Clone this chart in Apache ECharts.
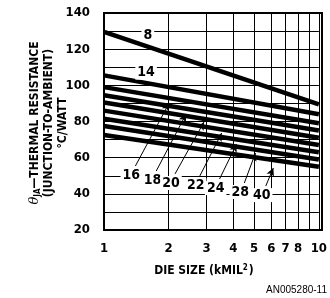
<!DOCTYPE html>
<html>
<head>
<meta charset="utf-8">
<script src="https://cdn.jsdelivr.net/npm/echarts@6/dist/echarts.min.js"></script>
<style>
  html, body { margin: 0; padding: 0; background: #fff; }
  #chart { width: 330px; height: 298px; }
</style>
</head>
<body>
<div id="chart"></div>
<script>
// pin counts and theta-JA at die size 1 and 10 kMIL^2
const pinCounts = ['8', '14', '16', '18', '20', '22', '24', '28', '40'];
const thetaAt1 = [129.5, 105.5, 99, 94.5, 90.5, 86, 81.5, 77.5, 72.5];
const thetaAt10 = [89.5, 84, 79, 75, 71, 67, 63, 59, 55];
const dieSizes = [1, 2, 3, 4, 5, 6, 7, 8, 9, 10];
const yTicks = [20, 40, 60, 80, 100, 120, 140];

// label spots (data coords)
const topLabels = ['8', '14'];
const topLabelX = [1.6, 1.57];
const topLabelY = [127.8, 107];
const lowLabels = ['16', '18', '20', '22', '24', '28', '40'];
const lowLabelX = [1.34, 1.68, 2.05, 2.67, 3.31, 4.31, 5.42];
const lowLabelY = [50.4, 47.6, 46.0, 44.8, 43.2, 41.0, 39.3];
// arrows: start near label, tip at the curve
const arrowFromX = [1.40, 1.75, 2.14, 2.79, 3.45, 4.50, 5.66];
const arrowFromY = [55.4, 52.6, 51.0, 49.8, 48.2, 46.0, 44.3];
const arrowToX = [2.01, 2.41, 2.92, 3.53, 4.14, 5.07, 6.14];
const arrowToY = [90.2, 84.1, 79.7, 73.6, 67.5, 62.6, 54.3];

const chart = echarts.init(document.getElementById('chart'));
const boldFont = 'DejaVu Sans Condensed';

const curveSeries = pinCounts.map((p, i) => ({
  name: p,
  type: 'line',
  symbol: 'none',
  silent: true,
  data: [[1, thetaAt1[i]], [10, thetaAt10[i]]],
  lineStyle: { color: '#000', width: 4.5 },
  z: 3
}));

const labelData = topLabels.map((t, i) => [topLabelX[i], topLabelY[i], t])
  .concat(lowLabels.map((t, i) => [lowLabelX[i], lowLabelY[i], t]));

const arrows = lowLabels.map((t, i) => [
  { coord: [arrowFromX[i], arrowFromY[i]] },
  { coord: [arrowToX[i], arrowToY[i]] }
]);

const option = {
  animation: false,
  grid: { left: 104, right: 8, top: 13, bottom: 68 },
  xAxis: {
    type: 'log',
    logBase: 10,
    min: 1,
    max: 10,
    axisLine: { show: true, lineStyle: { color: '#000', width: 2 } },
    axisTick: { show: false, customValues: dieSizes },
    axisLabel: {
      customValues: dieSizes,
      showMinLabel: true,
      showMaxLabel: true,
      hideOverlap: false,
      color: '#000',
      fontFamily: boldFont,
      fontWeight: 'bold',
      fontSize: 13,
      margin: 12
    },
    splitLine: { show: true, lineStyle: { color: '#000', width: 1 } }
  },
  yAxis: {
    type: 'value',
    min: 20,
    max: 140,
    interval: 10,
    axisLine: { show: true, lineStyle: { color: '#000', width: 2 } },
    axisTick: { show: false },
    axisLabel: {
      color: '#000',
      fontFamily: boldFont,
      fontWeight: 'bold',
      fontSize: 13,
      margin: 14,
      formatter: v => (yTicks.includes(v) ? String(v) : '')
    },
    splitLine: { show: true, lineStyle: { color: '#000', width: 1 } }
  },
  graphic: [
    { type: 'rect', shape: { x: 104, y: 13, width: 218, height: 217 },
      style: { fill: 'none', stroke: '#000', lineWidth: 2 }, z: 10 },
    {
      type: 'text',
      x: 49, y: 123,
      rotation: Math.PI / 2,
      style: {
        text: '{th|θ}{sub|JA}—THERMAL RESISTANCE\n(JUNCTION-TO-AMBIENT)\n°C/WATT',
        align: 'center',
        verticalAlign: 'middle',
        font: 'bold 12px "DejaVu Sans Condensed"',
        fill: '#000',
        lineHeight: 14,
        rich: {
          th: { font: 'italic 13px "DejaVu Serif"', fill: '#000' },
          sub: { font: 'bold 8px "DejaVu Sans Condensed"', fill: '#000', padding: [6, 0, 0, 0] }
        }
      }
    },
    {
      type: 'text',
      x: 204, y: 271,
      style: {
        text: 'DIE SIZE (kMIL{sup|2})',
        align: 'center',
        verticalAlign: 'middle',
        font: 'bold 12px "DejaVu Sans Condensed"',
        fill: '#000',
        rich: { sup: { font: 'bold 8px "DejaVu Sans Condensed"', fill: '#000', padding: [0, 1, 6, 0] } }
      }
    },
    {
      type: 'text',
      x: 327, y: 290,
      style: {
        text: 'AN005280-11',
        align: 'right',
        verticalAlign: 'middle',
        font: '10px "Liberation Sans"',
        fill: '#000'
      }
    }
  ],
  series: curveSeries.concat([{
    name: 'labels',
    type: 'scatter',
    symbolSize: 0,
    silent: true,
    z: 5,
    itemStyle: { opacity: 1, color: '#000' },
    data: labelData,
    label: {
      show: true,
      position: 'inside',
      formatter: p => p.data[2],
      color: '#000',
      opacity: 1,
      fontFamily: boldFont,
      fontWeight: 'bold',
      fontSize: 14,
      backgroundColor: '#fff',
      padding: [0, 2]
    },
    markLine: {
      silent: true,
      symbol: ['none', 'arrow'],
      symbolSize: [6, 8],
      label: { show: false },
      lineStyle: { color: '#000', width: 1, type: 'solid', opacity: 1 },
      data: arrows
    }
  }])
};

chart.setOption(option);
</script>
</body>
</html>
